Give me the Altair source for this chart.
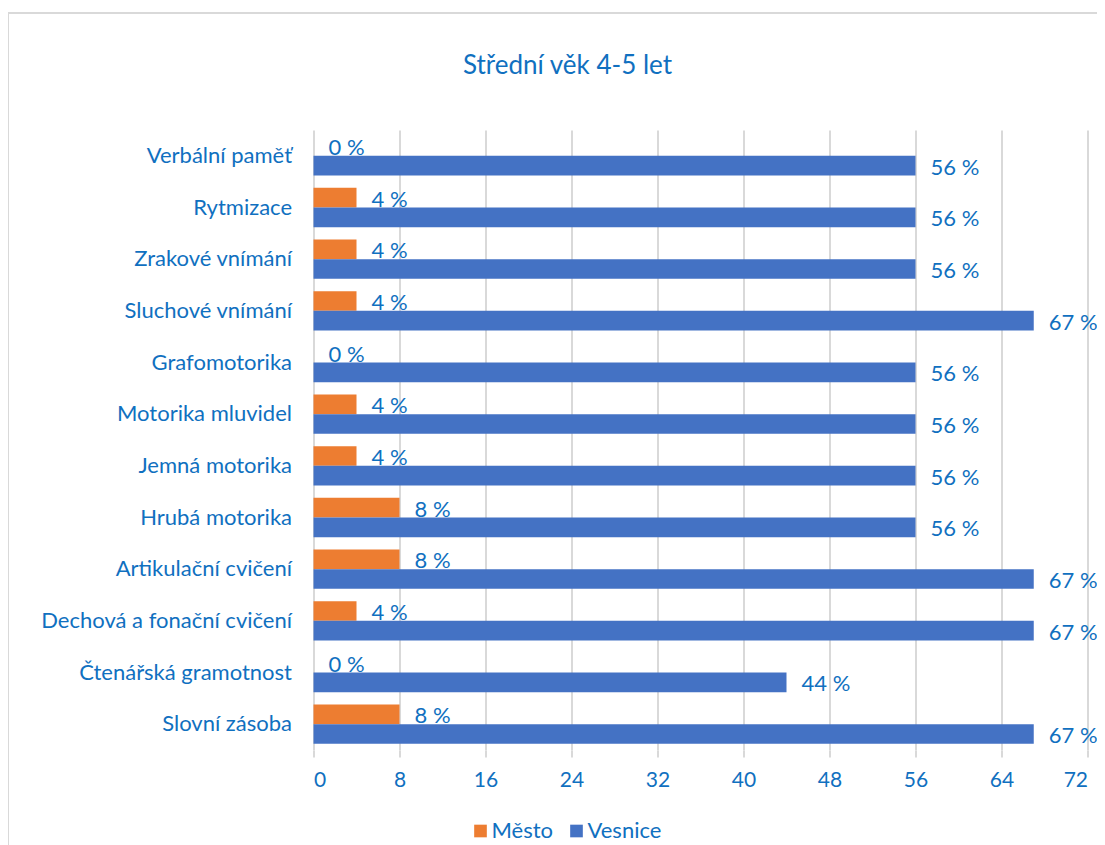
import altair as alt
import pandas as pd

categories = ["Verbální paměť", "Rytmizace", "Zrakové vnímání", "Sluchové vnímání",
              "Grafomotorika", "Motorika mluvidel", "Jemná motorika", "Hrubá motorika",
              "Artikulační cvičení", "Dechová a fonační cvičení", "Čtenářská gramotnost",
              "Slovní zásoba"]
mesto = [0, 4, 4, 4, 0, 4, 4, 8, 8, 4, 0, 8]
vesnice = [56, 56, 56, 67, 56, 56, 56, 56, 67, 67, 44, 67]
series = ["Město", "Vesnice"]
x_ticks = [0, 8, 16, 24, 32, 40, 48, 56, 64, 72]

rows = []
for c, m, v in zip(categories, mesto, vesnice):
    rows.append({"kat": c, "serie": "Město", "hodnota": m, "label": f"{m} %"})
    rows.append({"kat": c, "serie": "Vesnice", "hodnota": v, "label": f"{v} %"})
df = pd.DataFrame(rows)

BLUE_TXT = "#1070C0"
FONT = "Lato"
GRID = "#D9D9D9"

y_enc = alt.Y("kat:N", sort=categories, title=None,
              scale=alt.Scale(paddingInner=0.24, paddingOuter=0.12),
              axis=alt.Axis(domain=False, ticks=False, labelFontSize=22, labelColor=BLUE_TXT,
                            labelFont=FONT, labelPadding=22, labelLimit=400))
x_enc = alt.X("hodnota:Q", title=None,
              scale=alt.Scale(domain=[0, 72], nice=False),
              axis=alt.Axis(values=x_ticks, domain=False, ticks=True, tickSize=7,
                            tickColor=GRID, tickWidth=2, grid=True, gridColor=GRID,
                            gridWidth=2, labelFontSize=21, labelColor=BLUE_TXT,
                            labelFont=FONT, labelPadding=12))
yoff = alt.YOffset("serie:N", sort=series, scale=alt.Scale(paddingInner=0, paddingOuter=0))

base = alt.Chart(df)

bars = base.mark_bar().encode(
    y=y_enc, x=x_enc, yOffset=yoff,
    color=alt.Color("serie:N", sort=series,
                    scale=alt.Scale(domain=series, range=["#ED7D31", "#4472C4"]),
                    legend=alt.Legend(title=None, orient="none", legendX=156, legendY=690,
                                      direction="horizontal", symbolType="square",
                                      symbolSize=160, symbolStrokeWidth=0,
                                      labelFontSize=22, labelColor=BLUE_TXT, labelFont=FONT,
                                      labelOffset=0, columnPadding=12)),
)

texts = base.mark_text(align="left", baseline="middle", dx=15, dy=2,
                       fontSize=22, font=FONT, color=BLUE_TXT).encode(
    y=alt.Y("kat:N", sort=categories), x="hodnota:Q", yOffset=yoff, text="label:N")

frame = alt.Chart(pd.DataFrame({"a": [0]})).mark_rect(
    fill=None, stroke=GRID, strokeWidth=2, clip=False).encode(
    x=alt.value(-305.5), x2=alt.value(900), y=alt.value(-117), y2=alt.value(800))

chart = alt.layer(frame, bars, texts).properties(
    width=774, height=620,
    title=alt.Title("Střední věk 4-5 let", fontSize=26, color=BLUE_TXT, font=FONT,
                    fontWeight="normal", anchor="middle", frame="group", dx=-133,
                    offset=-67),
    autosize=alt.AutoSizeParams(type="none"),
    padding={"left": 305.5, "top": 122, "right": 9.5, "bottom": 95},
).configure_view(stroke=None)

chart.save("out.html", embed_options={"renderer": "svg", "actions": False})
